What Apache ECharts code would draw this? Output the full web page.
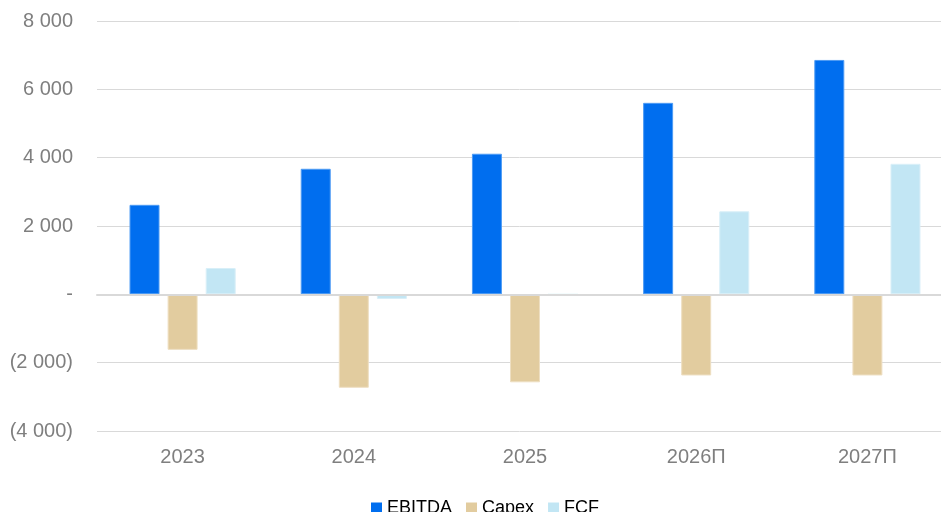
<!DOCTYPE html>
<html>
<head>
<meta charset="utf-8">
<script src="https://cdn.jsdelivr.net/npm/echarts@6/dist/echarts.min.js"></script>
<style>
  html, body { margin: 0; padding: 0; background: #ffffff; }
  #chart { width: 941px; height: 512px; }
</style>
</head>
<body>
<div id="chart"></div>
<script>
// Years (П = forecast)
const categories = ['2023', '2024', '2025', '2026П', '2027П'];
const ebitda = [2620, 3675, 4115, 5605, 6860];
const capex = [-1625, -2735, -2575, -2375, -2375];
const fcf = [770, -135, 0, 2430, 3820];

const yMin = -4000;
const yMax = 8000;
const yStep = 2000;

// 8 000 / - / (2 000)
function fmtThousands(v) {
  if (v === 0) return '-';
  const s = Math.abs(v).toString().replace(/\B(?=(\d{3})+(?!\d))/g, ' ');
  return v < 0 ? '(' + s + ')' : s;
}

const FONT = 'Liberation Sans, Arial, sans-serif';
const chart = echarts.init(document.getElementById('chart'), null, { renderer: 'canvas' });

const barStyle = (color, border) => ({ color: color, borderColor: border, borderWidth: 1 });

chart.setOption({
  animation: false,
  textStyle: { fontFamily: FONT },
  // plot area runs slightly past the right edge of the canvas
  grid: {
    left: 97, width: 856, top: 21, height: 410,
    containLabel: false,
    outerBoundsMode: 'none'
  },
  legend: {
    data: ['EBITDA', 'Capex', 'FCF'],
    left: 366,
    top: 494,
    itemWidth: 11,
    itemHeight: 11,
    itemGap: 14,
    icon: 'rect',
    itemStyle: { borderWidth: 0 },
    textStyle: { fontSize: 18, color: '#000000', fontFamily: FONT }
  },
  xAxis: [
    {
      // zero line
      type: 'category',
      data: categories,
      axisTick: { show: false },
      axisLabel: { show: false },
      axisLine: { show: true, onZero: true, lineStyle: { color: '#d9d9d9', width: 2 } },
      z: 5
    },
    {
      // year labels along the bottom of the plot
      type: 'category',
      data: categories,
      position: 'bottom',
      axisLine: { show: false, onZero: false },
      axisTick: { show: false },
      splitLine: { show: false },
      axisLabel: { show: true, interval: 0, color: '#7f7f7f', fontSize: 20, margin: 16 }
    }
  ],
  yAxis: {
    type: 'value',
    min: yMin,
    max: yMax,
    interval: yStep,
    axisLine: { show: false },
    axisTick: { show: false },
    splitLine: { lineStyle: { color: '#d9d9d9', width: 1 } },
    axisLabel: { color: '#7f7f7f', fontSize: 20, margin: 24, formatter: fmtThousands }
  },
  series: [
    {
      name: 'EBITDA', type: 'bar', data: ebitda,
      barGap: '27%', barCategoryGap: '38%',
      itemStyle: barStyle('#006eef', '#4d9bf4')
    },
    {
      name: 'Capex', type: 'bar', data: capex,
      itemStyle: barStyle('#e2cc9f', '#eedfc2')
    },
    {
      name: 'FCF', type: 'bar', data: fcf,
      itemStyle: barStyle('#c2e6f4', '#d9eff8')
    }
  ]
});
</script>
</body>
</html>
